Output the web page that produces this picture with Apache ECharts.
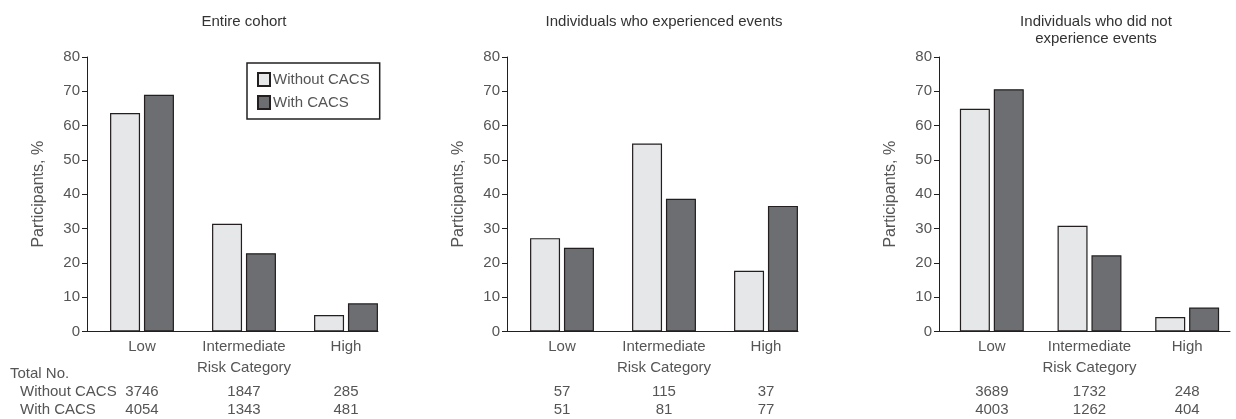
<!DOCTYPE html>
<html>
<head>
<meta charset="utf-8">
<script src="https://cdn.jsdelivr.net/npm/echarts@6/dist/echarts.min.js"></script>
<style>
  html, body { margin: 0; padding: 0; background: #fff; }
  #chart { width: 1236px; height: 419px; }
</style>
</head>
<body>
<div id="chart"></div>
<script>
// 数据
const categories = ['Low', 'Intermediate', 'High']
const panelTitles = ['Entire cohort', 'Individuals who experienced events', 'Individuals who did not\nexperience events']
const withoutPct = [
  [63.7, 31.4, 4.8],
  [27.2, 54.8, 17.7],
  [64.9, 30.8, 4.2]
]
const withPct = [
  [69.0, 22.8, 8.2],
  [24.4, 38.7, 36.6],
  [70.6, 22.2, 7.0]
]
const withoutCounts = [
  ['3746', '1847', '285'],
  ['57', '115', '37'],
  ['3689', '1732', '248']
]
const withCounts = [
  ['4054', '1343', '481'],
  ['51', '81', '77'],
  ['4003', '1262', '404']
]
const yTicks = { min: 0, max: 80, interval: 10 }

const font = 'Liberation Sans, Arial, Helvetica, sans-serif'
const fs = 15
const textColor = '#555'
const lineColor = '#231f20'
const lightFill = '#e6e7e8'
const darkFill = '#6d6e71'
const axisX = [87, 507, 939] // 每个面板 y 轴的位置
const gridTop = 57
const gridHeight = 274.5

const chart = echarts.init(document.getElementById('chart'))

const grid = []
const xAxis = []
const yAxis = []
const series = []
const title = []

// 计数行（用额外的类目轴显示）
const countAxis = (p, rows, margin) => ({
  gridIndex: 2 * p + 1,
  type: 'category',
  position: 'bottom',
  data: categories,
  axisLine: { show: false },
  axisTick: { show: false },
  axisLabel: {
    interval: 0, color: textColor, fontSize: fs, fontFamily: font, margin,
    formatter: (v, i) => rows[p][i]
  }
})

axisX.forEach((x0, p) => {
  // 轴框
  grid.push({ left: x0, top: gridTop, width: 291, height: gridHeight })
  // 柱子
  grid.push({ left: x0 + 4, top: gridTop, width: 306, height: gridHeight })

  xAxis.push({
    gridIndex: 2 * p,
    type: 'value',
    min: 0,
    max: 1,
    axisLine: { show: true, lineStyle: { color: lineColor, width: 1 } },
    axisTick: { show: false },
    axisLabel: { show: false },
    splitLine: { show: false }
  })
  xAxis.push({
    gridIndex: 2 * p + 1,
    type: 'category',
    position: 'bottom',
    data: categories,
    axisLine: { show: false },
    axisTick: { show: false },
    axisLabel: { interval: 0, color: textColor, fontSize: fs, fontFamily: font, margin: 8 },
    name: 'Risk Category',
    nameLocation: 'middle',
    nameGap: 29,
    nameTextStyle: { color: textColor, fontSize: fs, fontFamily: font }
  })
  xAxis.push(countAxis(p, withoutCounts, 53))
  xAxis.push(countAxis(p, withCounts, 71))

  yAxis.push({
    gridIndex: 2 * p,
    type: 'value',
    min: yTicks.min,
    max: yTicks.max,
    interval: yTicks.interval,
    axisLine: { show: true, lineStyle: { color: lineColor, width: 1 } },
    axisTick: { show: true, length: 5, lineStyle: { color: lineColor } },
    axisLabel: { color: textColor, fontSize: fs, fontFamily: font, margin: 7 },
    splitLine: { show: false },
    name: 'Participants, %',
    nameLocation: 'middle',
    nameGap: 40,
    nameTextStyle: { color: textColor, fontSize: 16, fontFamily: font }
  })
  yAxis.push({
    gridIndex: 2 * p + 1,
    type: 'value',
    min: yTicks.min,
    max: yTicks.max,
    show: false
  })

  series.push({
    name: 'Without CACS',
    type: 'bar',
    xAxisIndex: 4 * p + 1,
    yAxisIndex: 2 * p + 1,
    data: withoutPct[p],
    barWidth: 30,
    barGap: '13%',
    itemStyle: { color: lightFill, borderColor: lineColor, borderWidth: 1.2 },
    emphasis: { disabled: true },
    z: 3
  })
  series.push({
    name: 'With CACS',
    type: 'bar',
    xAxisIndex: 4 * p + 1,
    yAxisIndex: 2 * p + 1,
    data: withPct[p],
    barWidth: 30,
    barGap: '13%',
    itemStyle: { color: darkFill, borderColor: lineColor, borderWidth: 1.2 },
    emphasis: { disabled: true },
    z: 3
  })

  title.push({
    text: panelTitles[p],
    left: x0 + 157,
    top: 13,
    padding: 0,
    textAlign: 'center',
    textStyle: { color: '#333', fontSize: fs, fontWeight: 'normal', fontFamily: font, lineHeight: 17.5 }
  })
})

// 左下角表头
const rowLabel = (text, left, top) => ({
  text, left, top, padding: 0,
  textStyle: { color: textColor, fontSize: fs, fontWeight: 'normal', fontFamily: font }
})
title.push(rowLabel('Total No.', 10, 366.5))
title.push(rowLabel('Without CACS', 20, 384))
title.push(rowLabel('With CACS', 20, 402.5))

const option = {
  animation: false,
  title,
  grid,
  xAxis,
  yAxis,
  series,
  legend: {
    data: ['Without CACS', 'With CACS'],
    orient: 'vertical',
    left: 247,
    top: 63,
    padding: [9, 10, 9, 10],
    itemGap: 8,
    itemWidth: 12,
    itemHeight: 13,
    icon: 'rect',
    borderColor: lineColor,
    borderWidth: 1.5,
    borderRadius: 0,
    selectedMode: false,
    textStyle: { color: textColor, fontSize: fs, fontFamily: font, padding: [0, 0, 0, -2] }
  }
}

chart.setOption(option)
</script>
</body>
</html>
